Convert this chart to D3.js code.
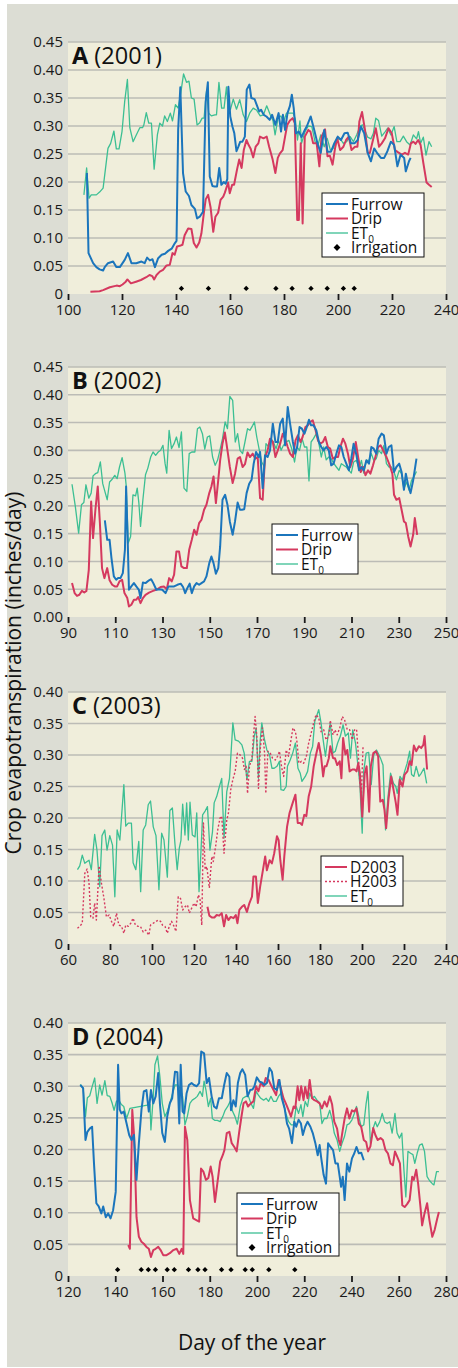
<!DOCTYPE html>
<html>
<head>
<meta charset="utf-8">
<script src="https://cdn.jsdelivr.net/npm/d3@7"></script>
<style>
  body { margin: 0; background: #fff; }
  svg { display: block; font-family: "Open Sans", "Noto Sans", sans-serif; }
</style>
</head>
<body>
<svg id="chart" width="458" height="1368"></svg>
<script>
// ---- data: [day of year, inches/day] ----
const furrow2001 = [[107,0.216],[107.6,0.073],[109.3,0.055],[110.5,0.048],[111.7,0.044],[113,0.042],[113.6,0.048],[114.8,0.055],[116.7,0.058],[117.9,0.048],[119.2,0.048],[121,0.061],[122.2,0.073],[123.5,0.055],[125.3,0.055],[127.2,0.058],[128.4,0.055],[129.3,0.065],[130.3,0.060],[131.3,0.062],[132.2,0.048],[133.4,0.064],[134.7,0.070],[135.9,0.072],[137.1,0.077],[138.4,0.081],[139.6,0.091],[140.2,0.095],[140.8,0.293],[141.6,0.369],[142.6,0.216],[143.6,0.183],[144.8,0.175],[145.7,0.159],[147,0.152],[147.8,0.135],[148.8,0.138],[150,0.147],[151,0.344],[151.8,0.378],[152.5,0.21],[153.5,0.193],[154.3,0.192],[155.2,0.192],[156,0.225],[156.8,0.195],[157.7,0.2],[158.4,0.197],[159,0.205],[159.4,0.37],[160.1,0.317],[160.9,0.299],[161.6,0.287],[162.4,0.255],[163.1,0.263],[163.8,0.272],[164.6,0.272],[165.5,0.281],[166.2,0.365],[167.2,0.374],[167.9,0.35],[169.1,0.348],[170.1,0.335],[170.8,0.326],[171.5,0.329],[172.5,0.32],[173.5,0.317],[174.7,0.311],[175.6,0.32],[176.8,0.302],[178,0.323],[178.9,0.29],[179.6,0.32],[180.4,0.293],[181.3,0.323],[182.2,0.336],[182.9,0.356],[183.6,0.332],[184.4,0.287],[185.5,0.29],[186.5,0.28],[187.7,0.293],[188.5,0.30],[189.9,0.317],[191.2,0.293],[192.4,0.269],[193.6,0.252],[194.9,0.293],[196.1,0.254],[197.4,0.254],[198.6,0.269],[199.9,0.281],[201.1,0.275],[202.4,0.287],[203.6,0.288],[204.8,0.269],[206.1,0.269],[207.3,0.275],[208.5,0.299],[209.7,0.287],[211,0.252],[212.2,0.237],[213.4,0.26],[214.6,0.251],[215.9,0.243],[217.1,0.243],[218.3,0.255],[219.6,0.272],[220.8,0.266],[222,0.228],[223.2,0.249],[224.5,0.243],[225.1,0.219],[226.3,0.237],[226.9,0.243]];
const drip2001 = [[108.3,0.004],[111.7,0.005],[113,0.007],[115.5,0.012],[118,0.015],[119.2,0.014],[120.2,0.017],[121.4,0.022],[122,0.026],[123.3,0.019],[125.2,0.022],[127,0.025],[129,0.030],[130.2,0.034],[131.2,0.032],[131.9,0.026],[132.8,0.034],[134,0.040],[135.2,0.043],[136.5,0.051],[137.7,0.052],[138.7,0.073],[139.5,0.070],[140.4,0.085],[141.4,0.086],[142.4,0.088],[143.2,0.105],[144.5,0.117],[145.7,0.116],[146.6,0.091],[147.6,0.083],[148.6,0.092],[149.4,0.108],[150.3,0.144],[151,0.169],[151.9,0.177],[152.8,0.155],[153.8,0.111],[154.6,0.138],[155.6,0.145],[156.5,0.168],[157.5,0.174],[158.1,0.181],[159.3,0.199],[159.9,0.180],[160.8,0.195],[161.5,0.195],[162.6,0.222],[163.4,0.240],[164.3,0.225],[165.1,0.257],[166.1,0.275],[166.9,0.266],[167.6,0.260],[168.6,0.244],[169.5,0.263],[170.5,0.269],[171.1,0.281],[172.4,0.278],[173.6,0.281],[174.5,0.263],[175.8,0.240],[176.8,0.216],[177.7,0.243],[178.5,0.251],[179.5,0.257],[180.4,0.281],[181.2,0.302],[182.2,0.310],[183.2,0.314],[184,0.305],[184.9,0.132],[185.5,0.132],[186.2,0.269],[186.9,0.126],[187.7,0.281],[189,0.293],[189.8,0.290],[190.8,0.269],[192.1,0.269],[193.1,0.228],[193.9,0.281],[195.2,0.294],[196.1,0.246],[197,0.247],[198,0.231],[198.9,0.260],[199.7,0.278],[200.8,0.257],[202,0.263],[203,0.275],[204,0.281],[205,0.257],[206.3,0.263],[207.2,0.263],[207.9,0.308],[208.9,0.325],[210,0.293],[211,0.252],[211.8,0.252],[212.8,0.272],[214,0.296],[215.2,0.263],[216.2,0.269],[217.4,0.278],[218.7,0.296],[219.9,0.287],[221.1,0.257],[222.3,0.253],[223.6,0.249],[224.8,0.252],[226,0.249],[227,0.269],[227.9,0.272],[228.7,0.268],[229.7,0.275],[230.6,0.266],[231.6,0.234],[232.8,0.199],[233.7,0.195],[234.7,0.191]];
const et2001 = [[105.9,0.177],[106.9,0.225],[107.8,0.171],[108.6,0.177],[110.5,0.177],[111.7,0.182],[113,0.189],[114.8,0.26],[115.8,0.269],[117,0.291],[117.9,0.259],[118.9,0.259],[120,0.29],[121,0.344],[122,0.383],[122.9,0.297],[124.1,0.272],[125.6,0.287],[126.6,0.297],[127.6,0.297],[128.1,0.302],[129,0.324],[129.9,0.305],[130.9,0.305],[131.9,0.223],[133.1,0.284],[134,0.305],[135,0.30],[135.8,0.318],[136.8,0.308],[137.9,0.323],[138.7,0.309],[139.8,0.338],[140.8,0.332],[141.8,0.36],[142.8,0.393],[143.9,0.378],[144.8,0.38],[145.7,0.35],[146.7,0.348],[147.8,0.302],[148.8,0.306],[149.7,0.314],[150.4,0.314],[151.3,0.362],[152.1,0.323],[153.1,0.318],[154.4,0.32],[155,0.32],[155.9,0.378],[156.9,0.332],[157.8,0.332],[158.7,0.37],[159.3,0.332],[160.2,0.33],[161.2,0.348],[162.4,0.33],[163.6,0.347],[164.9,0.32],[166.1,0.308],[167.4,0.324],[168.6,0.332],[169.9,0.328],[171.2,0.318],[172.4,0.32],[173.6,0.336],[174.9,0.32],[175.9,0.31],[176.7,0.284],[177.8,0.314],[178.8,0.318],[179.9,0.308],[180.9,0.323],[182.2,0.323],[183.4,0.323],[184.2,0.312],[185,0.275],[185.9,0.309],[186.5,0.269],[187.8,0.29],[189,0.30],[190.3,0.299],[191.5,0.272],[192.7,0.268],[193.6,0.284],[194.9,0.263],[196,0.278],[197.2,0.257],[198.2,0.26],[199.5,0.275],[200.7,0.278],[202,0.269],[203.2,0.272],[204.5,0.281],[205.7,0.272],[206.9,0.284],[208.2,0.30],[209.1,0.302],[210,0.292],[211,0.28],[212.2,0.277],[213.1,0.287],[214,0.314],[215,0.31],[216.2,0.282],[217.5,0.29],[218.4,0.296],[219.6,0.284],[220.8,0.299],[221.8,0.272],[223,0.272],[224.2,0.282],[225.4,0.272],[226.7,0.266],[227.9,0.284],[229.1,0.277],[229.8,0.29],[230.6,0.269],[231.6,0.28],[232.6,0.248],[233.7,0.272],[234.7,0.263]];
const irrigation2001 = [142,152,166,177,183,190,196,202,206];

const furrow2002 = [[105.6,0.174],[106.6,0.139],[107.6,0.139],[108.4,0.106],[109.4,0.073],[110.4,0.067],[111.2,0.070],[112.2,0.070],[113.2,0.079],[114.1,0.121],[114.6,0.235],[115.3,0.133],[115.8,0.049],[116.8,0.055],[117.9,0.061],[118.9,0.055],[120,0.049],[120.7,0.034],[121.7,0.062],[122.8,0.061],[124.3,0.066],[125.2,0.068],[126.1,0.061],[127.4,0.049],[128.5,0.050],[129.9,0.049],[131.3,0.043],[132.5,0.055],[133.8,0.055],[134.9,0.055],[136.3,0.058],[137.7,0.060],[138.7,0.054],[139.6,0.043],[140.5,0.052],[141.5,0.060],[142.4,0.043],[143.4,0.055],[144.4,0.061],[145.5,0.058],[146.5,0.061],[147.6,0.064],[148.6,0.073],[149.8,0.097],[150.7,0.109],[151.6,0.097],[152.6,0.078],[153.6,0.088],[154.4,0.127],[155.4,0.211],[156.5,0.220],[157.5,0.202],[158.5,0.172],[159.7,0.148],[160.7,0.172],[161.8,0.206],[162.8,0.193],[163.6,0.193],[164.6,0.194],[165.6,0.223],[166.7,0.240],[167.7,0.247],[168.6,0.276],[169.6,0.297],[170.7,0.288],[171.3,0.297],[172.4,0.232],[173.4,0.291],[174.5,0.288],[175.5,0.300],[176.7,0.348],[177.8,0.315],[178.8,0.315],[179.8,0.348],[180.9,0.357],[181.9,0.309],[183,0.378],[184,0.348],[185.2,0.315],[186.1,0.294],[187,0.306],[188,0.342],[189,0.339],[190.1,0.330],[191.1,0.342],[192,0.355],[192.9,0.345],[193.9,0.345],[195.1,0.336],[196.2,0.315],[197.2,0.306],[198.2,0.300],[199.3,0.306],[200.4,0.300],[201.4,0.273],[202.4,0.276],[203.6,0.294],[204.7,0.309],[205.7,0.306],[206.7,0.288],[207.8,0.276],[208.9,0.264],[209.9,0.285],[210.9,0.312],[212.1,0.291],[213.2,0.264],[214.2,0.270],[215.2,0.264],[216.3,0.282],[217.4,0.276],[218.4,0.306],[219.4,0.303],[220.5,0.294],[221.5,0.321],[222.7,0.330],[223.7,0.327],[224.8,0.294],[225.8,0.306],[226.9,0.309],[228,0.261],[229,0.270],[230.2,0.276],[231.2,0.261],[232.2,0.229],[233,0.258],[234,0.237],[235,0.223],[236.1,0.246],[237.5,0.285]];
const drip2002 = [[91.7,0.061],[92.8,0.043],[93.8,0.038],[94.8,0.040],[95.9,0.047],[96.9,0.044],[97.8,0.047],[98.8,0.085],[99.8,0.208],[100.6,0.142],[101.6,0.193],[102.6,0.235],[103.5,0.169],[104.4,0.088],[105.4,0.070],[106.6,0.088],[107.6,0.066],[108.7,0.058],[109.8,0.055],[110.8,0.055],[111.8,0.064],[112.9,0.067],[113.9,0.043],[115.1,0.034],[115.8,0.019],[116.8,0.022],[117.9,0.031],[118.9,0.031],[119.7,0.036],[120.7,0.025],[121.7,0.034],[122.8,0.040],[124.3,0.044],[126,0.047],[127.8,0.050],[129.2,0.054],[130.6,0.055],[131.8,0.050],[132.8,0.070],[133.9,0.064],[134.9,0.076],[135.9,0.118],[137,0.118],[138,0.091],[139.1,0.088],[140.3,0.088],[141.3,0.121],[142.4,0.139],[143.4,0.157],[144.4,0.148],[145.5,0.169],[146.5,0.175],[147.6,0.193],[148.6,0.202],[149.8,0.223],[150.7,0.235],[151.6,0.253],[152.6,0.205],[153.6,0.247],[154.4,0.282],[155.4,0.312],[156.4,0.332],[157.5,0.300],[158.5,0.270],[159.7,0.241],[160.7,0.258],[161.8,0.285],[162.8,0.288],[163.9,0.270],[164.9,0.275],[166,0.296],[167,0.288],[168.2,0.294],[169.3,0.285],[170.3,0.288],[171.3,0.214],[172.4,0.211],[173.4,0.288],[174.5,0.300],[175.5,0.321],[176.7,0.315],[177.8,0.288],[178.8,0.300],[179.8,0.312],[180.9,0.330],[181.9,0.321],[183,0.306],[184,0.294],[185.2,0.288],[186.3,0.318],[187.3,0.327],[188.4,0.315],[189.3,0.324],[190.5,0.342],[191.5,0.345],[192.5,0.351],[193.6,0.354],[194.8,0.336],[195.8,0.318],[196.8,0.312],[197.9,0.315],[198.9,0.324],[200,0.306],[201,0.303],[202.1,0.285],[203.3,0.288],[204.3,0.288],[205.3,0.306],[206.4,0.321],[207.4,0.312],[208.5,0.294],[209.5,0.270],[210.6,0.285],[211.8,0.315],[212.8,0.288],[213.9,0.261],[214.9,0.270],[215.9,0.255],[217,0.264],[218,0.258],[219.1,0.273],[220.1,0.288],[221.3,0.306],[222.3,0.309],[223.4,0.300],[224.8,0.288],[226.2,0.273],[227.3,0.258],[228,0.220],[229,0.211],[230.2,0.214],[231.2,0.193],[232.2,0.172],[233,0.169],[234,0.145],[235,0.127],[236.1,0.148],[236.8,0.178],[237.8,0.148]];
const et2002 = [[91.7,0.239],[93.1,0.199],[94.5,0.151],[95.7,0.202],[96.7,0.206],[97.6,0.238],[98.8,0.214],[99.8,0.223],[100.6,0.254],[101.6,0.258],[102.6,0.260],[103.7,0.279],[104.7,0.240],[105.6,0.226],[106.6,0.211],[107.6,0.243],[108.7,0.248],[109.8,0.255],[110.8,0.249],[111.8,0.270],[112.9,0.287],[114.1,0.259],[114.6,0.238],[115.5,0.133],[116.5,0.145],[117.5,0.220],[118.6,0.218],[119.3,0.232],[120,0.205],[120.7,0.163],[121.7,0.211],[122.8,0.256],[123.8,0.268],[125,0.288],[126,0.297],[127.1,0.291],[128.2,0.297],[129.2,0.300],[130.2,0.309],[131.1,0.276],[131.8,0.259],[132.8,0.336],[133.8,0.303],[134.9,0.312],[135.9,0.324],[137,0.305],[138,0.333],[139.1,0.232],[140.3,0.226],[141.3,0.294],[142.4,0.297],[143.7,0.297],[144.8,0.339],[145.8,0.342],[146.9,0.330],[147.9,0.302],[149,0.324],[150,0.326],[151.2,0.288],[152.3,0.273],[153.3,0.282],[154.3,0.300],[155.4,0.321],[156.5,0.351],[157.5,0.339],[158.5,0.397],[159.7,0.390],[160.8,0.315],[161.8,0.330],[162.8,0.300],[163.9,0.294],[164.9,0.315],[166,0.339],[167,0.336],[168.2,0.345],[168.9,0.351],[169.9,0.324],[171,0.300],[172,0.279],[173.1,0.270],[173.8,0.312],[175,0.306],[175.9,0.321],[176.9,0.315],[178.1,0.303],[179.1,0.318],[180.2,0.300],[181.2,0.309],[182.3,0.315],[183.5,0.318],[184.7,0.303],[185.9,0.279],[186.9,0.306],[188,0.300],[189.1,0.321],[190.1,0.306],[191.1,0.306],[192,0.245],[192.9,0.315],[193.9,0.321],[195.1,0.330],[196.2,0.312],[197.2,0.288],[198.2,0.306],[199.3,0.283],[200.4,0.288],[201.4,0.285],[202.4,0.277],[203.6,0.270],[204.7,0.264],[205.7,0.276],[206.7,0.273],[207.8,0.270],[208.9,0.264],[209.9,0.259],[210.9,0.279],[212.1,0.282],[213.2,0.267],[214.2,0.282],[215.2,0.259],[216.3,0.282],[217.4,0.282],[218.4,0.294],[219.4,0.282],[220.5,0.285],[221.5,0.300],[222.7,0.294],[223.7,0.309],[224.8,0.276],[225.9,0.270],[226.9,0.270],[228,0.261],[229,0.247],[230.2,0.264],[231.2,0.258],[232.2,0.231],[233.3,0.243],[234.4,0.228],[235.4,0.246],[236.4,0.252],[237.5,0.262]];

const d2003 = [[126.4,0.059],[127.3,0.045],[128.5,0.042],[129.7,0.042],[130.8,0.046],[132,0.045],[133.2,0.049],[134.3,0.028],[135.3,0.046],[136.4,0.038],[137.5,0.043],[138.8,0.041],[139.9,0.046],[140.7,0.033],[141.6,0.054],[142.8,0.059],[143.9,0.062],[145.2,0.051],[146.4,0.065],[147.6,0.075],[148.3,0.107],[149.5,0.107],[150.4,0.065],[151.5,0.091],[152.8,0.117],[153.9,0.139],[154.7,0.117],[156,0.133],[157.1,0.128],[158.2,0.144],[159.5,0.171],[160.3,0.165],[161.1,0.133],[162.2,0.102],[163,0.139],[164.3,0.186],[165.5,0.208],[167,0.224],[168.3,0.237],[169.4,0.192],[170.6,0.192],[171.4,0.189],[172.5,0.205],[173.5,0.203],[174.6,0.234],[175.8,0.250],[177,0.282],[178.1,0.300],[179.4,0.319],[180.5,0.298],[181.5,0.266],[182.2,0.282],[183.1,0.282],[184.2,0.295],[184.9,0.314],[186.2,0.295],[187.1,0.295],[188.2,0.284],[189.4,0.290],[190.2,0.263],[191,0.327],[192.1,0.301],[193,0.308],[194.1,0.274],[195.4,0.277],[196.5,0.277],[197.4,0.274],[198.2,0.287],[199,0.271],[200.1,0.202],[201.3,0.271],[202.2,0.282],[203.4,0.210],[204.2,0.282],[205.4,0.303],[206.6,0.306],[207.7,0.298],[208.7,0.226],[209.9,0.229],[210.7,0.213],[211.5,0.184],[212.6,0.229],[213.9,0.266],[215,0.245],[216.1,0.224],[216.9,0.205],[218,0.261],[219.3,0.250],[220.3,0.269],[221.6,0.274],[222.7,0.290],[223.6,0.284],[224.7,0.315],[225.8,0.306],[227.1,0.314],[228.2,0.311],[229.2,0.316],[229.8,0.330],[231,0.277]];
const h2003 = [[64.5,0.025],[65.6,0.028],[66.8,0.033],[68,0.112],[69.1,0.119],[70,0.097],[70.8,0.043],[71.9,0.041],[72.7,0.065],[73.5,0.038],[74.8,0.124],[75.9,0.097],[77,0.075],[78.3,0.043],[79.6,0.046],[80.7,0.036],[81.8,0.028],[83.1,0.049],[84.2,0.030],[85.5,0.028],[86.6,0.017],[87.5,0.030],[88.7,0.028],[89.9,0.033],[91,0.041],[92.1,0.030],[93.4,0.028],[94.5,0.028],[95.8,0.019],[97,0.022],[98.5,0.014],[99.3,0.030],[100.6,0.033],[101.9,0.036],[103,0.038],[104.1,0.036],[105,0.030],[106.2,0.028],[107.3,0.017],[108.2,0.028],[109.3,0.036],[110.5,0.028],[111.4,0.020],[112.5,0.075],[113.6,0.072],[114.6,0.054],[115.7,0.059],[116.9,0.062],[117.8,0.049],[118.9,0.057],[120,0.065],[121,0.059],[122.1,0.078],[122.9,0.070],[123.7,0.030],[124.5,0.192],[125.3,0.118],[126.1,0.123],[127.3,0.089],[128.5,0.139],[129.2,0.131],[130.3,0.155],[131.3,0.181],[132.4,0.200],[133.2,0.203],[134.3,0.144],[135.6,0.197],[136.4,0.208],[137.5,0.245],[138.5,0.261],[139.6,0.274],[140.7,0.303],[142,0.300],[143.1,0.295],[144,0.277],[144.8,0.282],[145.5,0.239],[146.4,0.282],[147.6,0.295],[148.3,0.330],[149.1,0.361],[149.9,0.330],[150.7,0.247],[151.5,0.308],[152.6,0.343],[153.6,0.303],[154.2,0.239],[155.2,0.306],[156.3,0.303],[157.4,0.295],[158.7,0.292],[159.8,0.298],[160.7,0.306],[161.8,0.279],[162.7,0.266],[163.9,0.308],[165,0.298],[166.2,0.324],[167.1,0.343],[168.3,0.337],[169.1,0.319],[169.9,0.287],[171.2,0.290],[172.2,0.287],[173.5,0.298],[174.6,0.319],[175.8,0.335],[177,0.351],[178.1,0.364],[179.4,0.359],[180.5,0.337],[181.8,0.340],[182.9,0.324],[184.2,0.330],[184.9,0.355],[186.2,0.332],[187.1,0.340],[188.2,0.332],[189.4,0.343],[190.6,0.361],[191.7,0.356],[193,0.340],[194.1,0.340],[195.4,0.324],[196.5,0.340],[197.4,0.341],[198.2,0.303],[199,0.255],[199.7,0.239],[200.5,0.314]];
const et2003 = [[64.5,0.118],[65.6,0.124],[66.8,0.141],[68,0.128],[69.1,0.131],[70,0.133],[71.1,0.118],[72.7,0.174],[73.8,0.149],[75.1,0.091],[76.2,0.172],[77.5,0.181],[78.6,0.149],[79.9,0.172],[81.2,0.157],[82.3,0.075],[83.4,0.181],[84.7,0.165],[86.6,0.253],[87.5,0.187],[88.7,0.192],[90.2,0.192],[91,0.129],[92.3,0.118],[93.7,0.163],[94.6,0.083],[95.8,0.181],[97,0.189],[98.2,0.221],[99.3,0.227],[100.6,0.186],[101.9,0.172],[103.3,0.086],[104.6,0.176],[105.7,0.165],[107.3,0.106],[108.5,0.212],[109.7,0.216],[110.9,0.160],[112,0.118],[113,0.152],[113.8,0.165],[114.6,0.222],[115.7,0.173],[116.5,0.224],[117.3,0.165],[118.1,0.225],[119.2,0.173],[120.5,0.170],[121.3,0.208],[122.4,0.083],[123.2,0.139],[124.1,0.205],[125.3,0.211],[126.4,0.218],[127.6,0.149],[128.8,0.178],[129.6,0.224],[130.8,0.234],[132.1,0.250],[133.2,0.263],[134.3,0.168],[135.6,0.242],[136.9,0.263],[137.5,0.295],[138.5,0.351],[139.6,0.324],[141.2,0.322],[142.8,0.316],[143.9,0.303],[145.2,0.261],[146.4,0.290],[147.6,0.290],[148.7,0.330],[149.6,0.343],[150.7,0.263],[151.5,0.322],[152.3,0.351],[153.4,0.327],[154.7,0.308],[156,0.300],[157.1,0.279],[158.2,0.279],[159.5,0.282],[160.7,0.290],[161.4,0.245],[162.7,0.244],[163.9,0.250],[164.5,0.282],[165.8,0.292],[167,0.303],[168.3,0.319],[169.5,0.279],[170.6,0.271],[171.4,0.258],[173,0.266],[174.1,0.274],[175.4,0.303],[176.5,0.314],[177.5,0.353],[178.6,0.364],[179.4,0.372],[180.5,0.351],[181.5,0.324],[182.6,0.298],[183.7,0.327],[184.9,0.351],[186.2,0.303],[187.3,0.306],[188.4,0.319],[189.7,0.330],[191,0.348],[192.1,0.330],[193.5,0.335],[194.5,0.295],[195.6,0.340],[196.9,0.319],[198,0.285],[199,0.253],[200.1,0.176],[200.8,0.274],[202,0.303],[203.2,0.304],[204.4,0.253],[205.6,0.300],[206.9,0.308],[208.1,0.300],[208.8,0.295],[210,0.284],[211.2,0.181],[212.4,0.234],[213.6,0.271],[215,0.255],[216.1,0.250],[216.8,0.239],[218.1,0.266],[219.2,0.260],[220.3,0.274],[221.5,0.287],[222.7,0.306],[223.6,0.269],[224.7,0.266],[225.8,0.282],[227.1,0.266],[228.2,0.271],[229.5,0.279],[230.8,0.255]];

const furrow2004 = [[125.2,0.302],[126.4,0.297],[127.4,0.215],[128.2,0.228],[129.2,0.233],[130.2,0.236],[131,0.178],[132,0.115],[133,0.110],[134.1,0.099],[134.9,0.110],[136,0.093],[137,0.099],[138,0.091],[139.1,0.104],[140.2,0.133],[141.2,0.334],[141.9,0.263],[142.6,0.257],[143.6,0.260],[144.8,0.241],[145.9,0.223],[146.9,0.215],[147.9,0.223],[149,0.152],[150,0.210],[151.1,0.263],[152.1,0.292],[153.2,0.294],[154.2,0.260],[155.1,0.294],[156.1,0.273],[157.1,0.284],[158.2,0.321],[158.9,0.273],[159.9,0.226],[161,0.212],[162,0.252],[163.1,0.273],[164.1,0.281],[165.3,0.323],[166.3,0.322],[167.1,0.241],[167.7,0.334],[168.5,0.260],[169.2,0.257],[170.2,0.289],[171.2,0.302],[172.3,0.305],[173.3,0.302],[174.5,0.300],[175.5,0.305],[176.4,0.355],[177.6,0.352],[178.7,0.305],[179.7,0.313],[180.8,0.284],[181.8,0.268],[182.9,0.265],[183.9,0.281],[185.1,0.281],[186.1,0.302],[187.2,0.321],[188.3,0.315],[189,0.262],[190,0.278],[191,0.268],[191.9,0.305],[192.9,0.321],[193.8,0.327],[195,0.318],[196,0.284],[197.1,0.294],[198.1,0.295],[198.9,0.300],[199.9,0.314],[201.1,0.307],[202.1,0.306],[203.2,0.302],[204.2,0.305],[205.3,0.329],[206.3,0.323],[207.3,0.297],[208.4,0.294],[209.5,0.310],[210.5,0.281],[211.7,0.265],[212.7,0.241],[213.6,0.233],[214.8,0.210],[215.8,0.244],[216.6,0.236],[217.6,0.247],[218.6,0.241],[219.4,0.223],[220.4,0.236],[221.4,0.244],[222.6,0.236],[223.6,0.226],[224.7,0.210],[225.7,0.191],[226.5,0.207],[227.2,0.186],[228.2,0.160],[229.2,0.146],[230.1,0.210],[231.1,0.204],[232.2,0.199],[233.2,0.178],[234.2,0.178],[235,0.157],[235.6,0.141],[236.3,0.157],[237.1,0.120],[238.1,0.178],[239.1,0.165],[240.2,0.186],[241.2,0.194],[242.1,0.204],[243.1,0.194],[244.1,0.195],[245.2,0.183]];
const drip2004 = [[145.5,0.049],[146.2,0.043],[147.2,0.263],[148,0.220],[149,0.093],[150,0.062],[151.1,0.054],[152.1,0.051],[153.2,0.046],[154.2,0.043],[155.1,0.030],[156.1,0.041],[157.1,0.043],[158.2,0.046],[159.2,0.041],[160.3,0.033],[161.7,0.033],[163.1,0.036],[164.6,0.041],[166,0.043],[167.1,0.035],[168.1,0.043],[168.8,0.035],[169.5,0.236],[170.5,0.215],[171.6,0.120],[173,0.091],[174.5,0.088],[175.5,0.086],[176.3,0.170],[177.3,0.165],[178.4,0.152],[179.4,0.155],[180.4,0.173],[181.2,0.157],[182.2,0.117],[183.2,0.146],[184.4,0.181],[185.5,0.191],[186.2,0.199],[187.2,0.226],[188.3,0.228],[189.3,0.210],[190.4,0.204],[191.4,0.197],[192.4,0.226],[193.3,0.249],[194.3,0.273],[195.3,0.276],[196.2,0.268],[197.4,0.273],[198.5,0.276],[199.6,0.300],[200.6,0.292],[201.6,0.305],[202.8,0.300],[203.7,0.313],[204.9,0.310],[205.9,0.302],[207,0.294],[208.1,0.286],[209.1,0.310],[210.1,0.297],[211.2,0.281],[212.2,0.273],[213.4,0.262],[214.4,0.252],[215.5,0.268],[216.2,0.265],[217.2,0.300],[217.9,0.278],[218.7,0.300],[219.7,0.278],[220.4,0.299],[221.4,0.281],[222.3,0.310],[223.3,0.281],[224.3,0.278],[225.4,0.276],[226.5,0.273],[227.5,0.265],[228.6,0.276],[229.6,0.268],[230.8,0.284],[231.8,0.271],[232.7,0.244],[233.9,0.233],[234.6,0.215],[235.3,0.207],[236.3,0.231],[237.1,0.249],[238.1,0.265],[239.1,0.249],[240.2,0.262],[241.2,0.260],[242.1,0.265],[243.1,0.241],[244.1,0.236],[245.2,0.215],[246.2,0.212],[247,0.197],[248,0.205],[249.2,0.234],[250.1,0.223],[251.1,0.215],[252.3,0.218],[253.3,0.215],[254.4,0.199],[255.4,0.194],[256.5,0.178],[257.5,0.175],[258.4,0.197],[259.3,0.189],[260.5,0.178],[261.5,0.112],[262.5,0.109],[263.6,0.114],[264.6,0.120],[265.7,0.157],[266.4,0.152],[267.4,0.168],[268.2,0.146],[269.2,0.109],[269.9,0.080],[270.9,0.099],[272,0.115],[273,0.088],[274.2,0.062],[275.2,0.073],[276.3,0.091],[277,0.101]];
const et2004 = [[125.2,0.303],[126.4,0.297],[127.4,0.252],[128.2,0.282],[129.2,0.285],[130.2,0.299],[131.3,0.313],[132.3,0.273],[133.4,0.302],[134.4,0.286],[135.6,0.309],[136.6,0.285],[137.7,0.284],[138.7,0.273],[139.5,0.262],[140.5,0.276],[141.5,0.278],[142.6,0.271],[143.6,0.268],[144.8,0.249],[146.2,0.265],[154.7,0.271],[155.1,0.231],[156.1,0.284],[156.8,0.334],[157.9,0.348],[158.9,0.315],[159.9,0.273],[161,0.252],[162,0.260],[163.1,0.273],[164.3,0.289],[165.3,0.302],[166.3,0.302],[167.4,0.297],[168.5,0.284],[169.5,0.239],[170.5,0.252],[171.6,0.273],[172.6,0.278],[173.8,0.281],[174.7,0.284],[175.9,0.292],[176.9,0.284],[177.6,0.308],[178.4,0.294],[179.4,0.268],[180.4,0.281],[181.1,0.249],[182.2,0.246],[183.2,0.246],[184.4,0.244],[185.5,0.252],[186.5,0.262],[187.6,0.268],[188.6,0.276],[189.7,0.260],[190.7,0.252],[191.7,0.240],[192.9,0.268],[194,0.281],[195.3,0.284],[196.4,0.284],[197.4,0.273],[198.5,0.265],[199.6,0.292],[200.6,0.286],[201.6,0.281],[202.8,0.278],[203.9,0.281],[204.9,0.276],[205.9,0.284],[207,0.276],[208.1,0.276],[209.1,0.284],[210.1,0.289],[211.2,0.273],[212.2,0.257],[213.4,0.244],[214.5,0.239],[215.5,0.239],[216.6,0.268],[217.6,0.257],[218.6,0.271],[219.4,0.252],[220.4,0.276],[221.4,0.268],[222.3,0.289],[223.3,0.281],[224.3,0.284],[225.4,0.278],[226.5,0.274],[227.5,0.241],[228.5,0.249],[229.6,0.249],[230.8,0.262],[231.8,0.247],[232.7,0.226],[233.9,0.215],[235,0.197],[236,0.210],[237,0.220],[238.1,0.239],[239.1,0.241],[240.2,0.247],[241.2,0.257],[242.1,0.268],[243.1,0.252],[244.1,0.236],[245.2,0.239],[246.2,0.273],[247,0.292],[248,0.210],[249.2,0.234],[250.1,0.244],[250.9,0.236],[252,0.244],[253,0.257],[254,0.244],[255.1,0.241],[256.2,0.244],[257.2,0.226],[258.4,0.257],[259.3,0.226],[260.3,0.218],[261.3,0.226],[262.2,0.167],[263,0.125],[263.9,0.197],[265,0.194],[266,0.192],[266.8,0.178],[267.8,0.194],[268.8,0.207],[269.9,0.209],[270.9,0.197],[272,0.157],[273,0.151],[274.2,0.146],[274.9,0.144],[276,0.165],[277,0.165]];
const irrigation2004 = [141,151,154,157,162,165,171,175,178,185,189,195,198,205,216];
const irrigationLevel = 0.01;

// tick labels
const xTicksA = [100,120,140,160,180,200,220,240];
const xTicksB = [90,110,130,150,170,190,210,230,250];
const xTicksC = [60,80,100,120,140,160,180,200,220,240];
const xTicksD = [120,140,160,180,200,220,240,260,280];
const yTicks45 = [0,0.05,0.10,0.15,0.20,0.25,0.30,0.35,0.40,0.45];
const yTicks40 = [0,0.05,0.10,0.15,0.20,0.25,0.30,0.35,0.40];
const yLabelsA = ["0","0.05","0.10","0.15","0.20","0.25","0.30","0.35","0.40","0.45"];
const yLabelsB = ["0.00","0.05","0.10","0.15","0.20","0.25","0.30","0.35","0.40","0.45"];
const yLabelsCD = ["0","0.05","0.10","0.15","0.20","0.25","0.30","0.35","0.40"];

const BLUE = "#1b75bc", RED = "#d5395f", GREEN = "#3cbf93";
const styles = {
  furrow: {stroke: BLUE, width: 2, label: "Furrow"},
  drip:   {stroke: RED, width: 2, label: "Drip"},
  et:     {stroke: GREEN, width: 1.3, label: "ET", sub: "0"},
  d2003:  {stroke: RED, width: 2, label: "D2003"},
  h2003:  {stroke: RED, width: 1.4, dash: "2,2", label: "H2003"},
};
const diamond = d3.symbolDiamond2 || d3.symbolDiamond;

const panels = [
  {letter: "A", year: " (2001)", top: 42, bottom: 294, x: [100,240], xTicks: xTicksA,
   yTicks: yTicks45, yLabels: yLabelsA,
   series: [["et", et2001], ["drip", drip2001], ["furrow", furrow2001]],
   legendOrder: ["furrow","drip","et"], irrigation: irrigation2001,
   legend: {x: 322, y: 193, w: 102, h: 64}},
  {letter: "B", year: " (2002)", top: 367, bottom: 617, x: [90,250], xTicks: xTicksB,
   yTicks: yTicks45, yLabels: yLabelsB,
   series: [["et", et2002], ["drip", drip2002], ["furrow", furrow2002]],
   legendOrder: ["furrow","drip","et"],
   legend: {x: 272, y: 524, w: 86, h: 50}},
  {letter: "C", year: " (2003)", top: 692, bottom: 944, x: [60,240], xTicks: xTicksC,
   yTicks: yTicks40, yLabels: yLabelsCD,
   series: [["et", et2003], ["h2003", h2003], ["d2003", d2003]],
   legendOrder: ["d2003","h2003","et"],
   legend: {x: 321, y: 856, w: 82, h: 50}},
  {letter: "D", year: " (2004)", top: 1023, bottom: 1276, x: [120,280], xTicks: xTicksD,
   yTicks: yTicks40, yLabels: yLabelsCD,
   series: [["et", et2004], ["drip", drip2004], ["furrow", furrow2004]],
   legendOrder: ["furrow","drip","et"], irrigation: irrigation2004,
   legend: {x: 237, y: 1193, w: 102, h: 63}},
];

const left = 68, right = 446;
const svg = d3.select("#chart");

// outer panel background
svg.append("rect").attr("x", 7).attr("y", 4).attr("width", 451).attr("height", 1363)
  .attr("fill", "#dcddd4");

panels.forEach(function(p) {
  const x = d3.scaleLinear().domain(p.x).range([left, right]);
  const y = d3.scaleLinear().domain([0, p.yTicks[p.yTicks.length-1]]).range([p.bottom, p.top]);
  const g = svg.append("g");

  g.append("rect").attr("x", left).attr("y", p.top)
    .attr("width", right-left).attr("height", p.bottom-p.top)
    .attr("fill", "#f0eedb");

  // gridlines
  g.selectAll(".grid").data(p.yTicks.slice(1)).enter().append("line")
    .attr("x1", left).attr("x2", right)
    .attr("y1", d => y(d)).attr("y2", d => y(d))
    .attr("stroke", "#bcbcb6").attr("stroke-width", 1.6);

  // y labels
  g.selectAll(".ylab").data(p.yTicks).enter().append("text")
    .attr("x", 63).attr("y", d => y(d)).attr("dy", "0.36em")
    .attr("text-anchor", "end").attr("font-size", 15).attr("fill", "#1a1a1a")
    .text((d, i) => p.yLabels[i]);

  // x axis
  const xAxis = g.append("g").attr("transform", "translate(0," + p.bottom + ")")
    .call(d3.axisBottom(x).tickValues(p.xTicks).tickSize(6).tickSizeOuter(0).tickPadding(4));
  xAxis.select(".domain").remove();
  xAxis.selectAll(".tick line").attr("stroke", "#1a1a1a").attr("stroke-width", 1.8);
  xAxis.selectAll(".tick text").attr("font-size", 15).attr("fill", "#1a1a1a")
    .attr("font-family", "'Open Sans', 'Noto Sans', sans-serif");

  // series
  const line = d3.line().x(d => x(d[0])).y(d => y(d[1]));
  p.series.forEach(function(s) {
    const st = styles[s[0]];
    g.append("path").datum(s[1])
      .attr("d", line).attr("fill", "none")
      .attr("stroke", st.stroke).attr("stroke-width", st.width)
      .attr("stroke-linejoin", "round")
      .attr("stroke-dasharray", st.dash || null);
  });

  // irrigation markers
  if (p.irrigation) {
    g.selectAll(".irr").data(p.irrigation).enter().append("path")
      .attr("d", d3.symbol().type(diamond).size(18))
      .attr("transform", d => "translate(" + x(d) + "," + y(irrigationLevel) + ")")
      .attr("fill", "#000");
  }

  // title
  const t = g.append("text").attr("x", 72).attr("y", p.top + 22)
    .attr("font-size", 23.5).attr("fill", "#111");
  t.append("tspan").attr("font-weight", "bold").text(p.letter);
  t.append("tspan").text(p.year);

  // legend
  const L = p.legend;
  const lg = g.append("g").attr("transform", "translate(" + L.x + "," + L.y + ")");
  lg.append("rect").attr("width", L.w).attr("height", L.h)
    .attr("fill", "#fff").attr("stroke", "#111").attr("stroke-width", 1);
  const rows = p.legendOrder.slice();
  if (p.irrigation) rows.push("irrigation");
  rows.forEach(function(k, i) {
    const cy = 11 + i * 14.5;
    if (k === "irrigation") {
      lg.append("path").attr("d", d3.symbol().type(diamond).size(30))
        .attr("transform", "translate(15," + cy + ")").attr("fill", "#000");
    } else {
      const st = styles[k];
      lg.append("line").attr("x1", 4).attr("x2", 26).attr("y1", cy).attr("y2", cy)
        .attr("stroke", st.stroke).attr("stroke-width", st.width)
        .attr("stroke-dasharray", st.dash || null);
    }
    const tx = lg.append("text").attr("x", 29).attr("y", cy).attr("dy", "0.36em")
      .attr("font-size", 15.5).attr("fill", "#111");
    if (k === "irrigation") tx.text("Irrigation");
    else {
      tx.append("tspan").text(styles[k].label);
      if (styles[k].sub) tx.append("tspan").attr("font-size", 10).attr("dy", 4).text(styles[k].sub);
    }
  });
});

// axis titles
svg.append("text")
  .attr("transform", "translate(21,673) rotate(-90)")
  .attr("text-anchor", "middle").attr("font-size", 21).attr("fill", "#111")
  .text("Crop evapotranspiration (inches/day)");
svg.append("text").attr("x", 252).attr("y", 1350)
  .attr("text-anchor", "middle").attr("font-size", 21).attr("fill", "#111")
  .text("Day of the year");
</script>
</body>
</html>
